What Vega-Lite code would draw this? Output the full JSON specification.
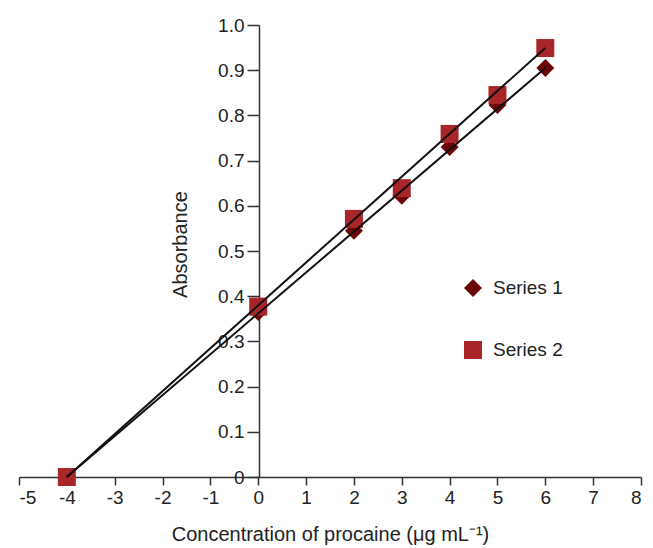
{
  "$schema": "https://vega.github.io/schema/vega-lite/v6.json",
  "width": 622,
  "height": 452,
  "autosize": {"type": "none"},
  "padding": {"left": 19, "top": 25, "right": 12, "bottom": 71},
  "background": "white",
  "config": {
    "view": {"stroke": null},
    "font": "Liberation Sans",
    "axis": {"grid": false, "domainColor": "#333333", "domainWidth": 1.5, "tickColor": "#333333", "tickWidth": 1.5, "labelColor": "#222222", "titleFontWeight": "normal", "titleColor": "#222222", "labelFont": "Liberation Sans", "titleFont": "Liberation Sans"},
    "legend": {"labelFont": "Liberation Sans", "labelFontSize": 19, "labelColor": "#222222"}
  },
  "datasets": {
    "pts": [
      {"x": -4, "y": 0, "series": "Series 1"},
      {"x": 0, "y": 0.365, "series": "Series 1"},
      {"x": 2, "y": 0.545, "series": "Series 1"},
      {"x": 3, "y": 0.622, "series": "Series 1"},
      {"x": 4, "y": 0.73, "series": "Series 1"},
      {"x": 5, "y": 0.823, "series": "Series 1"},
      {"x": 6, "y": 0.905, "series": "Series 1"},
      {"x": -4, "y": 0, "series": "Series 2"},
      {"x": 0, "y": 0.377, "series": "Series 2"},
      {"x": 2, "y": 0.571, "series": "Series 2"},
      {"x": 3, "y": 0.639, "series": "Series 2"},
      {"x": 4, "y": 0.759, "series": "Series 2"},
      {"x": 5, "y": 0.845, "series": "Series 2"},
      {"x": 6, "y": 0.949, "series": "Series 2"}
    ],
    "lines": [
      {"x": -4, "y": 0, "fit": "Line 1"},
      {"x": 6, "y": 0.905, "fit": "Line 1"},
      {"x": -4, "y": 0, "fit": "Line 2"},
      {"x": 6, "y": 0.949, "fit": "Line 2"}
    ]
  },
  "layer": [
    {
      "data": {"name": "pts"},
      "mark": {"type": "point", "filled": true, "opacity": 1, "size": 324},
      "encoding": {
        "x": {"field": "x", "type": "quantitative", "scale": {"domain": [-5, 8], "nice": false}, "title": "Concentration of procaine (μg mL⁻¹)",
          "axis": {"values": [-5,-4,-3,-2,-1,0,1,2,3,4,5,6,7,8], "tickSize": 8, "labelFontSize": 19, "titleFontSize": 20, "labelPadding": 3, "titlePadding": 17, "labelExpr": "datum.value < 0 ? '-' + abs(datum.value) : '' + datum.value"}},
        "y": {"field": "y", "type": "quantitative", "scale": {"domain": [0, 1], "nice": false}, "title": "Absorbance",
          "axis": {"values": [0,0.1,0.2,0.3,0.4,0.5,0.6,0.7,0.8,0.9,1.0], "offset": -240, "tickSize": 12, "labelFontSize": 19, "titleFontSize": 20, "labelExpr": "datum.value == 0 ? '0' : format(datum.value, '.1f')", "labelPadding": 3, "titleX": -79, "titleY": 219, "titleBaseline": "middle", "titleAlign": "center"}},
        "shape": {"field": "series", "type": "nominal", "scale": {"domain": ["Series 1", "Series 2"], "range": ["diamond", "square"]},
          "legend": {"title": null, "orient": "none", "legendX": 444, "legendY": 253, "rowPadding": 42, "symbolSize": 324, "labelOffset": 10}},
        "color": {"field": "series", "type": "nominal", "scale": {"domain": ["Series 1", "Series 2"], "range": ["#6a0606", "#a82628"]},
          "legend": {"title": null, "orient": "none", "legendX": 444, "legendY": 253, "rowPadding": 42, "symbolSize": 324, "labelOffset": 10}}
      }
    },
    {
      "data": {"name": "lines"},
      "mark": {"type": "line", "color": "#111111", "strokeWidth": 2},
      "encoding": {
        "x": {"field": "x", "type": "quantitative"},
        "y": {"field": "y", "type": "quantitative"},
        "detail": {"field": "fit", "type": "nominal"}
      }
    }
  ]
}
